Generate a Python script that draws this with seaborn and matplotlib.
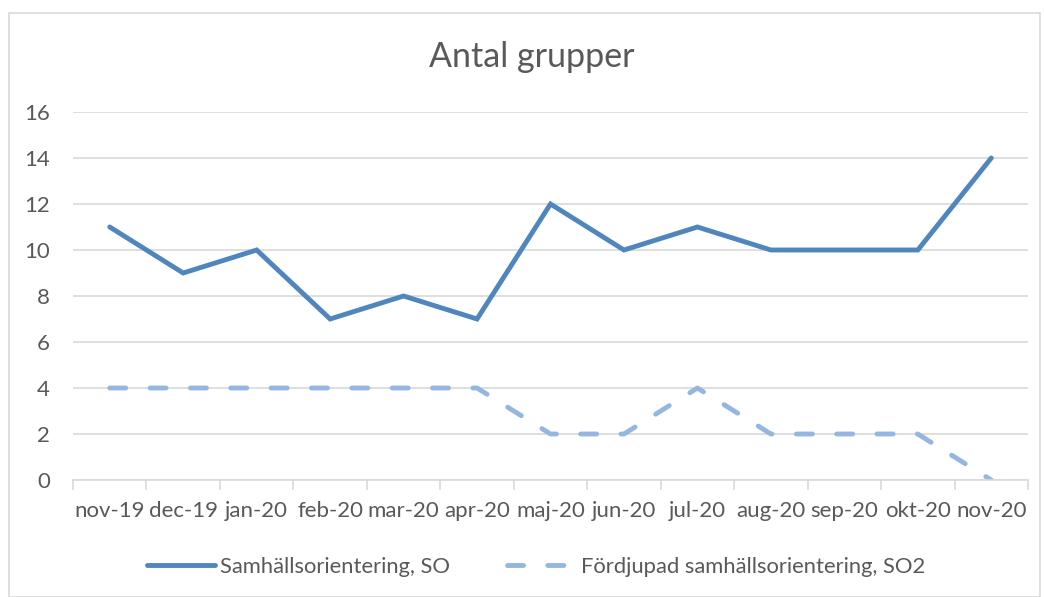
import matplotlib
matplotlib.use("Agg")
import matplotlib.pyplot as plt
import seaborn as sns
import pandas as pd
from matplotlib.patches import Rectangle
from matplotlib.lines import Line2D

months = ["nov-19", "dec-19", "jan-20", "feb-20", "mar-20", "apr-20", "maj-20",
          "jun-20", "jul-20", "aug-20", "sep-20", "okt-20", "nov-20"]
so_values = [11, 9, 10, 7, 8, 7, 12, 10, 11, 10, 10, 10, 14]
so2_values = [4, 4, 4, 4, 4, 4, 2, 2, 4, 2, 2, 2, 0]
series_names = ["Samhällsorientering, SO", "Fördjupad samhällsorientering, SO2"]

sns.set_theme(style="white")
plt.rcParams['font.family'] = ['Lato', 'DejaVu Sans']

df = pd.DataFrame({"month": months * 2,
                   "value": so_values + so2_values,
                   "series": [series_names[0]] * len(months) + [series_names[1]] * len(months)})
df["x"] = list(range(len(months))) * 2

fig = plt.figure(figsize=(10.44, 5.97), dpi=100)
ax = fig.add_axes([73 / 1044, 1 - 480 / 597, (1028 - 73) / 1044, (480 - 112) / 597])

LW = 3.5
DASH = (3.3, 5.0)
colors = {series_names[0]: "#4f86be", series_names[1]: "#95b6df"}
sns.lineplot(data=df, x="x", y="value", hue="series", palette=colors,
             style="series", dashes={series_names[0]: "", series_names[1]: DASH},
             linewidth=LW, ax=ax, legend=False)
for line in ax.get_lines():
    line.set_solid_capstyle("round")
    line.set_dash_capstyle("round")
    line.set_solid_joinstyle("miter")

ax.set_xlim(-0.5, len(months) - 0.5)
ax.set_ylim(0, 16)
ax.set_yticks(range(0, 17, 2))
ax.set_xticks(range(len(months)))
ax.set_xticklabels(months)
ax.set_xlabel("")
ax.set_ylabel("")
ax.grid(axis="y", color="#d9d9d9", linewidth=1.2)
ax.set_axisbelow(True)
for s in ["top", "right", "left"]:
    ax.spines[s].set_visible(False)
ax.spines["bottom"].set_color("#d9d9d9")
ax.spines["bottom"].set_linewidth(1.2)
ax.set_xticks([i - 0.5 for i in range(len(months) + 1)], minor=True)
ax.tick_params(axis="x", which="minor", length=7, color="#d9d9d9", width=1.2, bottom=True)
ax.tick_params(axis="x", which="major", length=0, pad=15, labelsize=16, labelcolor="#595959")
ax.tick_params(axis="y", length=0, pad=16.5, labelsize=16, labelcolor="#595959")

fig.text(532 / 1044, 1 - 57 / 597, "Antal grupper", ha="center", va="center",
         fontsize=24.5, color="#595959")

handles = [Line2D([], [], color=colors[series_names[0]], linewidth=LW, solid_capstyle="round"),
           Line2D([], [], color=colors[series_names[1]], linewidth=LW, linestyle=(0, DASH),
                  dash_capstyle="round")]
fig.legend(handles, series_names, loc="center", bbox_to_anchor=(536 / 1044, 1 - 567 / 597),
           ncol=2, frameon=False, fontsize=15.8, labelcolor="#595959", handlelength=3.1,
           handletextpad=0.25, columnspacing=2.6)

fig.patches.append(Rectangle((9 / 1044, 0), (1040 - 9) / 1044, 1 - 13 / 597,
                             transform=fig.transFigure, fill=False, edgecolor="#d9d9d9",
                             linewidth=1.2))

fig.savefig("out.png", dpi=100)
